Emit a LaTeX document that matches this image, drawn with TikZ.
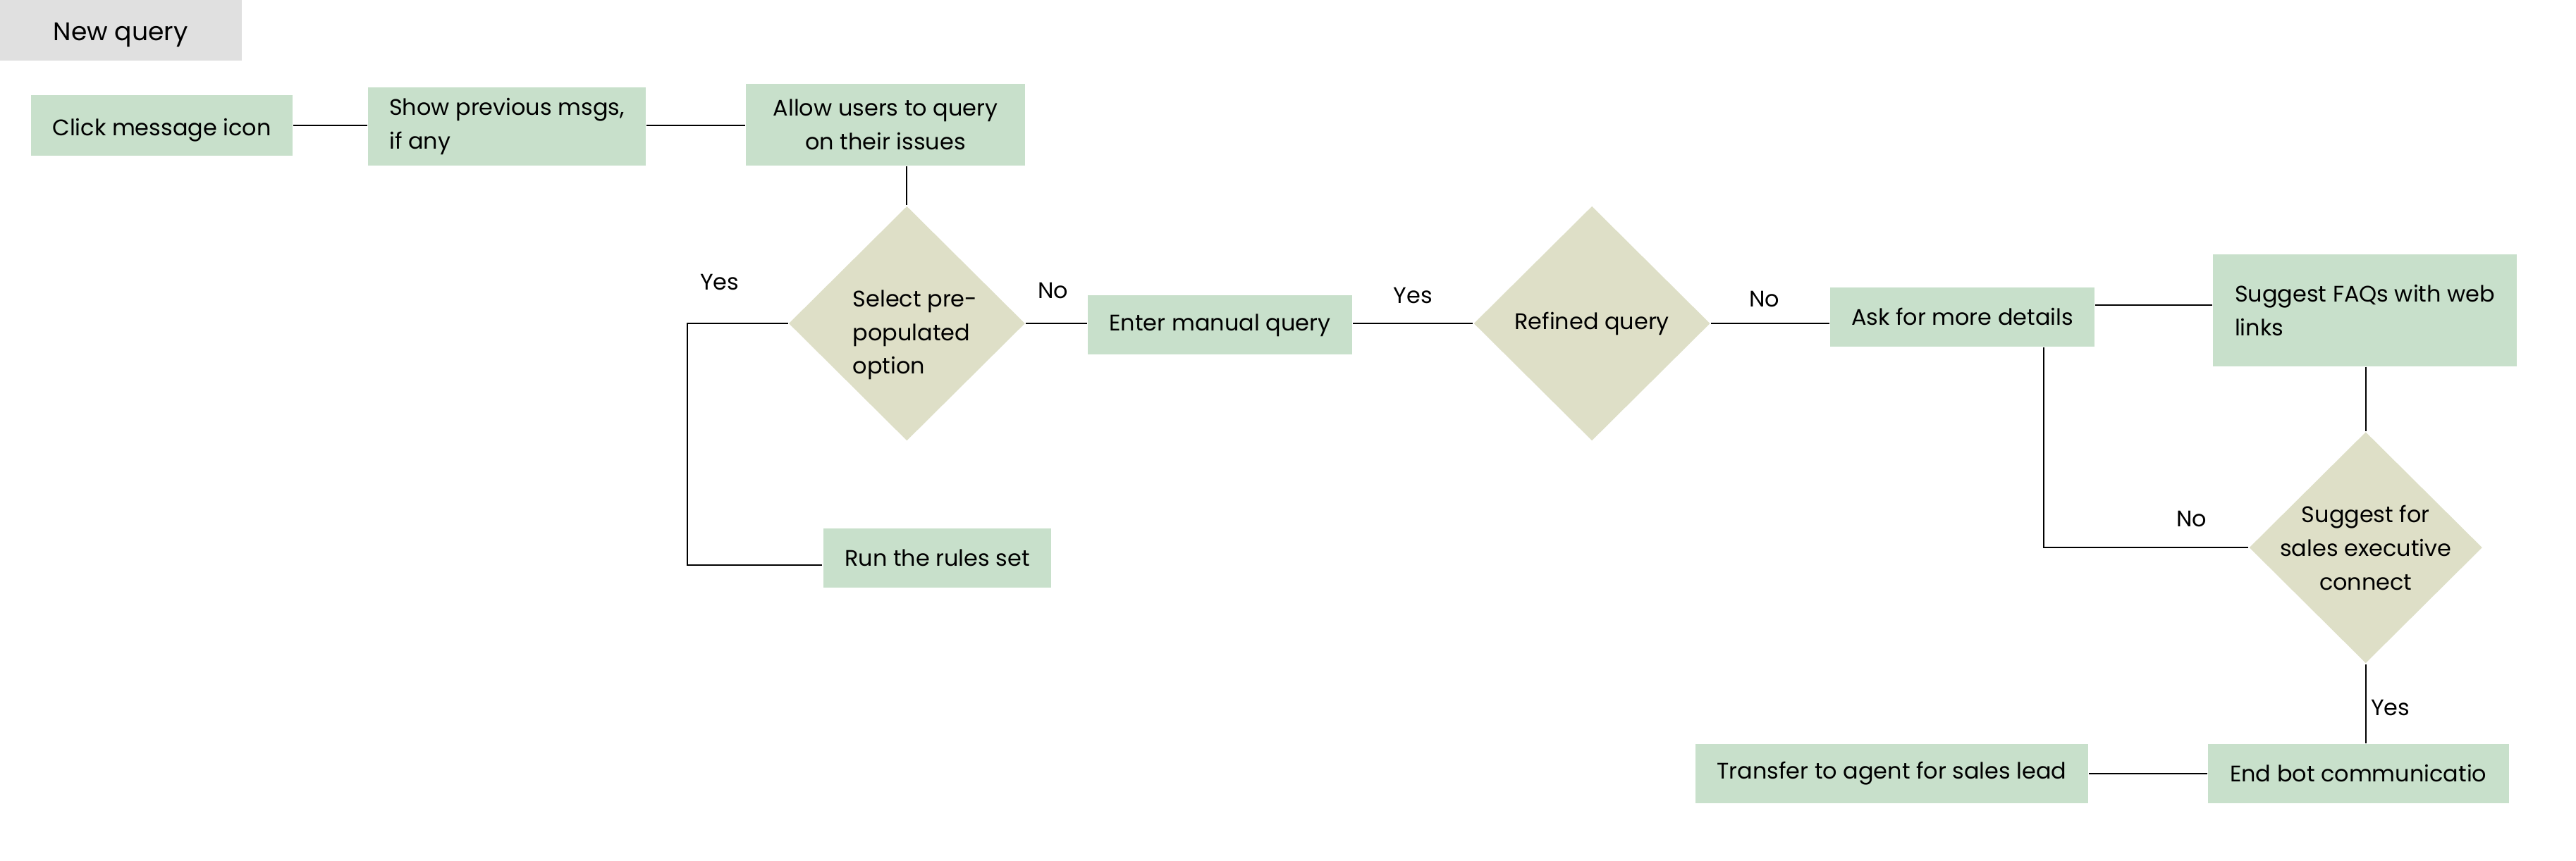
\documentclass[tikz,border=0pt]{standalone}
\usepackage{fontspec}
\setmainfont{Poppins}
\usetikzlibrary{shapes.geometric,positioning}
\definecolor{boxgreen}{RGB}{200,224,203}
\definecolor{decsand}{RGB}{222,223,199}
\definecolor{tabgrey}{RGB}{224,224,224}

\begin{document}
\begin{tikzpicture}[x=1pt, y=-1pt, line width=0.9pt,
  box/.style = {fill=boxgreen, align=left, inner sep=0pt, font=\fontsize{13.7}{20.5}\selectfont},
  dec/.style = {diamond, fill=decsand, align=center, inner sep=0pt, minimum width=144pt, minimum height=143pt, font=\fontsize{13.7}{20.5}\selectfont},
  lbl/.style = {inner sep=0pt, font=\fontsize{13.7}{17}\selectfont}]
\useasboundingbox (0,0) rectangle (1568,524);
\node[fill=tabgrey, minimum width=147pt, minimum height=37pt, text height=13pt, text depth=1pt, font=\fontsize{15.5}{18}\selectfont] (tab) at (73.5,18.5) {New query};
\node[box, minimum width=159pt, minimum height=37pt, text height=12pt, text depth=0pt] (click) at (98.5,76.5) {Click message icon};
\node[box, minimum width=169pt, minimum height=48pt] (prev) at (308.5,77) {Show previous msgs,\\if any};
\node[box, align=center, minimum width=170pt, minimum height=50pt] (allow) at (539,76) {Allow users to query\\on their issues};
\node[dec] (select) at (552,197) {};
\node[box, fill=none] (selecttxt) at (557,204) {Select pre-\\populated\\option};
\node[box, minimum width=139pt, minimum height=36pt] (rules) at (570.5,340) {Run the rules set};
\node[box, minimum width=161pt, minimum height=36pt] (manual) at (742.5,198) {Enter manual query};
\node[dec] (refined) at (969,197) {Refined query};
\node[box, minimum width=161pt, minimum height=36pt] (details) at (1194.5,193) {Ask for more details};
\node[box, minimum width=185pt, minimum height=68pt] (faq) at (1439.5,189) {Suggest FAQs with web\\links};
\node[dec, inner xsep=-12pt, minimum width=142pt, minimum height=141pt] (sales) at (1440,333.5) {Suggest for\\sales executive\\connect};
\node[box, minimum width=183pt, minimum height=36pt] (endbot) at (1435.5,471) {End bot communicatio};
\node[box, minimum width=239pt, minimum height=36pt] (transfer) at (1151.5,471) {Transfer to agent for sales lead};
% branch labels
\node[lbl] (yes1) at (438,172) {Yes};
\node[lbl] (no1) at (641,177) {No};
\node[lbl] (yes2) at (860,180) {Yes};
\node[lbl] (no2) at (1074,182) {No};
\node[lbl] (no3) at (1334,316) {No};
\node[lbl] (yes3) at (1455,431) {Yes};
% connectors
\coordinate (d1) at ([yshift=7pt]details.east);
\coordinate (d2) at ([xshift=49.5pt]details.south);
\coordinate (r1) at ([yshift=-4pt]rules.west);
\draw (click.east) -- (click.east -| prev.west);
\draw (click.east -| prev.east) -- (click.east -| allow.west);
\draw (allow.south -| select.north) -- (select.north);
\draw (select.west) -- ++(-61,0) |- (r1);
\draw (select.east) -- (select.east -| manual.west);
\draw (refined.west -| manual.east) -- (refined.west);
\draw (refined.east) -- (refined.east -| details.west);
\draw (d1) -- (d1 -| faq.west);
\draw (faq.south -| sales.north) -- (sales.north);
\draw (sales.west) -| (d2);
\draw (sales.south) -- (sales.south |- endbot.north);
\draw (endbot.west) -- (transfer.east);
\end{tikzpicture}
\end{document}
